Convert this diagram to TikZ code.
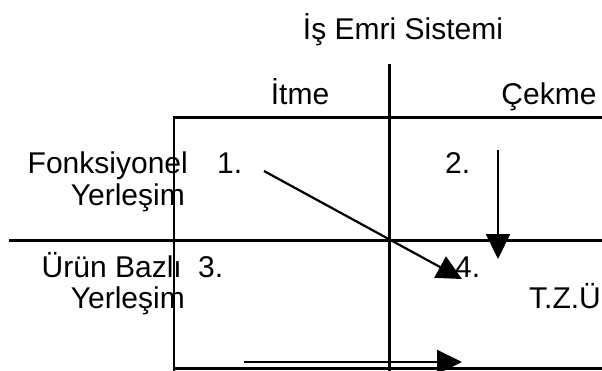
\documentclass[tikz,border=0pt]{standalone}
\usepackage{fontspec}
\setmainfont{Liberation Sans}
\usetikzlibrary{arrows.meta}
\begin{document}
\begin{tikzpicture}[x=1pt,y=-1pt,
  lbl/.style={inner sep=0pt,font=\fontsize{30}{35}\selectfont},
  gridline/.style={line width=2.3pt,line cap=rect},
  flow/.style={line width=2.2pt,-{Triangle[length=25pt,width=24pt]}}]
\useasboundingbox (0,0) rectangle (602,370);
% grid lines
\coordinate (vtop) at (389.5,65);
\coordinate (vbot) at (389.5,370);
\coordinate (ltop) at (174,117.5);
\coordinate (lbot) at (174,370);
\coordinate (tr) at (602,117.5);
\coordinate (ml) at (10,240.5);
\coordinate (mr) at (602,240.5);
\coordinate (bl) at (174,368.5);
\coordinate (br) at (602,368.5);
\draw[gridline] (vtop) -- (vbot);
\draw[gridline] (lbot) -- (ltop) -- (tr);
\draw[gridline] (ml) -- (mr);
\draw[gridline] (bl) -- (br);
% texts
\node[lbl,anchor=base] (title) at (403,39) {İş Emri Sistemi};
\node[lbl,anchor=base] (itme) at (300,104) {İtme};
\node[lbl,anchor=base] (cekme) at (549,104) {Çekme};
\node[lbl,anchor=base east] (fonk) at (188,173) {Fonksiyonel};
\node[lbl,anchor=base east] (yer1) at (185,205) {Yerleşim};
\node[lbl,anchor=base east] (urun) at (182,277) {Ürün Bazlı};
\node[lbl,anchor=base east] (yer2) at (185,308) {Yerleşim};
\node[lbl,anchor=base west] (n1) at (217,173) {1.};
\node[lbl,anchor=base west] (n2) at (445,173) {2.};
\node[lbl,anchor=base west] (n3) at (198,277) {3.};
\node[lbl,anchor=base west] (n4) at (455,277) {4.};
\node[lbl,anchor=base east] (tzu) at (601,308) {T.Z.Ü};
% arrows
\coordinate (d1) at (264,171);
\coordinate (d2) at (462,279);
\coordinate (v1) at (498,150);
\coordinate (v2) at (498,259);
\coordinate (h1) at (244,362);
\coordinate (h2) at (462,362);
\draw[flow] (d1) -- (d2);
\draw[flow] (v1) -- (v2);
\draw[flow] (h1) -- (h2);
\end{tikzpicture}
\end{document}
